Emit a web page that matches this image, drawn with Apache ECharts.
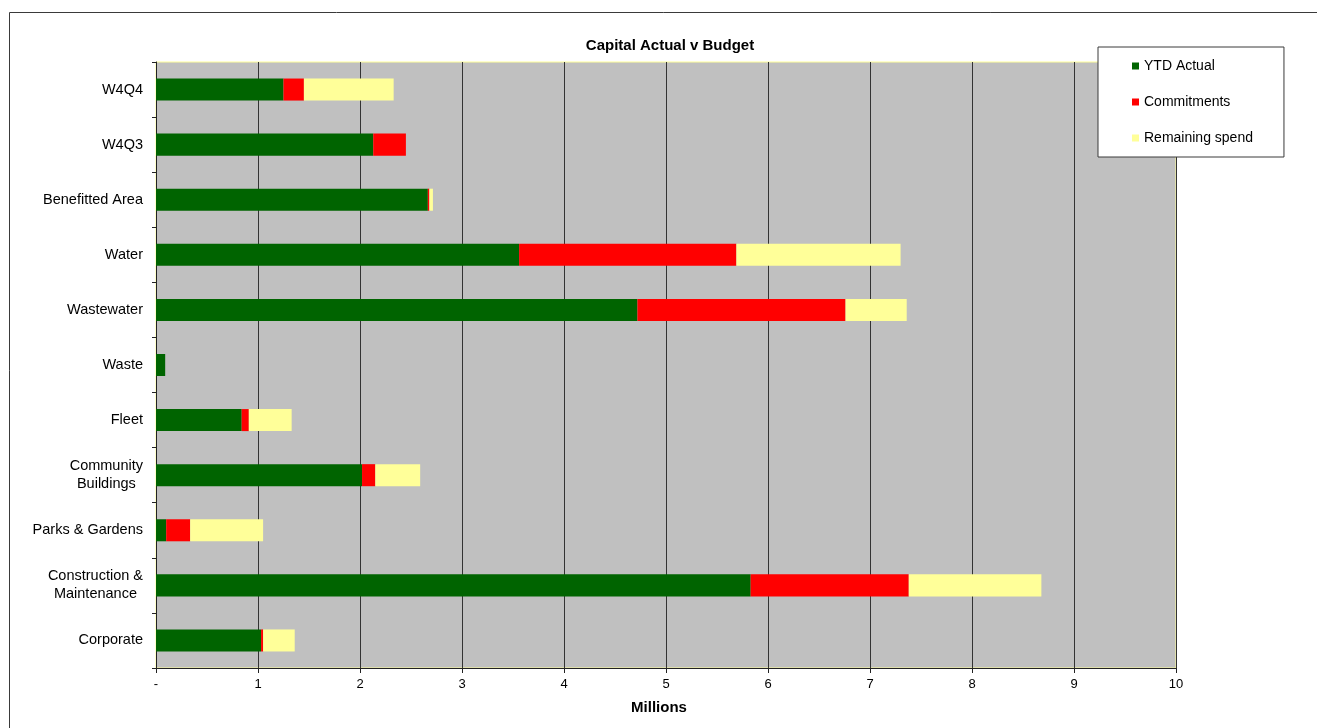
<!DOCTYPE html>
<html>
<head>
<meta charset="utf-8">
<title>Capital Actual v Budget</title>
<script src="https://cdn.jsdelivr.net/npm/echarts@6/dist/echarts.min.js"></script>
<style>
  html, body { margin: 0; padding: 0; background: #ffffff; }
  #chart { width: 1317px; height: 728px; }
</style>
</head>
<body>
<div id="chart"></div>
<script>
// Capital programme by activity, in millions
const categories = [
  'W4Q4', 'W4Q3', 'Benefitted Area', 'Water', 'Wastewater', 'Waste', 'Fleet',
  'Community\nBuildings', 'Parks & Gardens', 'Construction &\nMaintenance', 'Corporate'
];
const ytdActual      = [1.25, 2.13, 2.665, 3.56, 4.72, 0.09, 0.84, 2.02, 0.10, 5.83, 1.03];
const commitments    = [0.20, 0.32, 0.015, 2.13, 2.04, 0.00, 0.07, 0.13, 0.235, 1.55, 0.02];
const remainingSpend = [0.88, 0.00, 0.035, 1.61, 0.60, 0.00, 0.42, 0.44, 0.715, 1.30, 0.31];
const xTicks = ['-', '1', '2', '3', '4', '5', '6', '7', '8', '9', '10'];

const FONT = '"Liberation Sans", Arial, sans-serif';

const chart = echarts.init(document.getElementById('chart'), null, { renderer: 'canvas' });

function barSeries(name, data, color) {
  return {
    name: name,
    type: 'bar',
    stack: 'budget',
    data: data,
    barWidth: '40%',
    itemStyle: { color: color },
    emphasis: { disabled: true }
  };
}

chart.setOption({
  animation: false,
  backgroundColor: '#ffffff',
  textStyle: { fontFamily: FONT },
  graphic: [{
    type: 'rect',
    shape: { x: 9.5, y: 12.5, width: 1400, height: 800 },
    style: { fill: 'none', stroke: '#3a3a3a', lineWidth: 1 },
    silent: true,
    z: -10
  }],
  title: {
    text: 'Capital Actual v Budget',
    left: 665,
    top: 33,
    textAlign: 'center',
    textStyle: { fontFamily: FONT, fontSize: 15, fontWeight: 'bold', color: '#000' }
  },
  legend: {
    orient: 'vertical',
    left: 1098,
    top: 47,
    padding: [11, 31, 11, 34],
    itemGap: 20,
    itemWidth: 7,
    itemHeight: 7,
    icon: 'rect',
    backgroundColor: '#ffffff',
    borderColor: '#3a3a3a',
    borderWidth: 1,
    textStyle: { fontFamily: FONT, fontSize: 14, color: '#000', lineHeight: 16 },
    data: ['YTD Actual', 'Commitments', 'Remaining spend']
  },
  grid: {
    left: 156,
    right: 141,
    top: 62,
    bottom: 60,
    show: true,
    backgroundColor: '#c0c0c0',
    borderColor: '#ffff99',
    borderWidth: 1,
    containLabel: false
  },
  xAxis: {
    type: 'value',
    min: 0,
    max: 10,
    interval: 1,
    name: 'Millions',
    nameLocation: 'middle',
    nameGap: 32,
    nameTextStyle: {
      fontFamily: FONT, fontSize: 15, fontWeight: 'bold', color: '#000',
      padding: [0, 14, 0, 0]
    },
    axisLine: { show: true, lineStyle: { color: '#222', width: 1 } },
    axisTick: { show: true, length: 5, lineStyle: { color: '#222' } },
    axisLabel: {
      margin: 10,
      fontFamily: FONT,
      fontSize: 13,
      color: '#000',
      formatter: function (v) { return xTicks[Math.round(v)]; }
    },
    splitLine: { show: true, lineStyle: { color: '#333', width: 1 } }
  },
  yAxis: {
    type: 'category',
    inverse: true,
    data: categories,
    axisLine: { show: true, lineStyle: { color: '#222', width: 1 } },
    axisTick: { show: true, length: 4, alignWithLabel: false, lineStyle: { color: '#222' } },
    axisLabel: {
      margin: 13,
      fontFamily: FONT,
      fontSize: 14.5,
      color: '#000',
      lineHeight: 18,
      formatter: function (v) {
        return v.split('\n').map(function (s) { return '{c|' + s + '}'; }).join('\n');
      },
      rich: { c: { align: 'center', fontFamily: FONT, fontSize: 14.5, color: '#000', lineHeight: 18 } }
    },
    splitLine: { show: false }
  },
  series: [
    barSeries('YTD Actual', ytdActual, '#006400'),
    barSeries('Commitments', commitments, '#ff0000'),
    barSeries('Remaining spend', remainingSpend, '#ffff99')
  ]
});
</script>
</body>
</html>
